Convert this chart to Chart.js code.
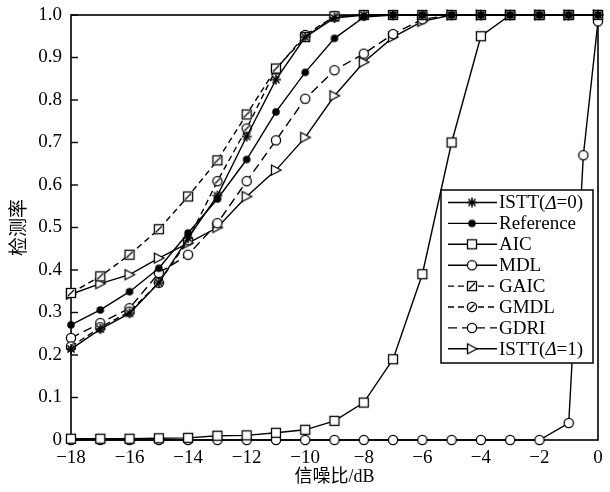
<!DOCTYPE html>
<html lang="zh">

<head>
  <meta charset="UTF-8">
  <title>检测率 vs 信噪比</title>
  <script src="https://cdn.jsdelivr.net/npm/chart.js"></script>
  <style>
    body { margin: 0; background: #fff; }
  </style>
</head>

<body>
  <canvas id="detChart" width="610" height="492"></canvas>

  <script>
    // Data (x = SNR in dB)
    const snr = [-18, -17, -16, -15, -14, -13, -12, -11, -10, -9, -8, -7, -6, -5, -4, -3, -2, -1, 0];
    const istt0 = [0.214, 0.261, 0.298, 0.37, 0.475, 0.575, 0.714, 0.848, 0.948, 0.993, 1, 1, 1, 1, 1, 1, 1, 1, 1];
    const reference = [0.271, 0.306, 0.349, 0.404, 0.487, 0.567, 0.66, 0.772, 0.865, 0.945, 0.995, 1, 1, 1, 1, 1, 1, 1, 1];
    const aic = [0.003, 0.003, 0.003, 0.004, 0.005, 0.01, 0.011, 0.017, 0.024, 0.045, 0.088, 0.19, 0.39, 0.70, 0.95, 1, 1, 1, 1];
    const mdlSnr = [-18, -17, -16, -15, -14, -13, -12, -11, -10, -9, -8, -7, -6, -5, -4, -3, -2, -1, -0.5, 0];
    const mdl = [0, 0, 0, 0, 0, 0, 0, 0, 0, 0, 0, 0, 0, 0, 0, 0, 0, 0.04, 0.67, 0.985];
    const gaic = [0.346, 0.385, 0.436, 0.496, 0.573, 0.658, 0.766, 0.874, 0.948, 0.997, 1, 1, 1, 1, 1, 1, 1, 1, 1];
    const gmdl = [0.22, 0.265, 0.302, 0.37, 0.47, 0.609, 0.733, 0.872, 0.953, 0.997, 1, 1, 1, 1, 1, 1, 1, 1, 1];
    const gdri = [0.24, 0.275, 0.31, 0.393, 0.436, 0.51, 0.609, 0.705, 0.803, 0.87, 0.909, 0.955, 0.99, 1, 1, 1, 1, 1, 1];
    const istt1 = [0.343, 0.368, 0.389, 0.428, 0.463, 0.50, 0.573, 0.635, 0.712, 0.81, 0.889, 0.948, 0.985, 1, 1, 1, 1, 1, 1];

    const xTicks = [-18, -16, -14, -12, -10, -8, -6, -4, -2, 0];
    const serif = "'Liberation Serif', 'Noto Sans CJK SC', serif";

    // Build marker images
    function makeMarker(kind) {
      const c = document.createElement('canvas');
      c.width = 14; c.height = 14;
      const g = c.getContext('2d');
      g.strokeStyle = '#000';
      g.fillStyle = '#fff';
      g.lineWidth = 1.3;
      if (kind === 'star') {
        g.lineWidth = 1.5;
        for (let i = 0; i < 4; i++) {
          const a = i * Math.PI / 4;
          g.beginPath();
          g.moveTo(7 - 5 * Math.cos(a), 7 - 5 * Math.sin(a));
          g.lineTo(7 + 5 * Math.cos(a), 7 + 5 * Math.sin(a));
          g.stroke();
        }
      } else if (kind === 'dot') {
        g.fillStyle = '#000';
        g.beginPath(); g.arc(7, 7, 3.8, 0, Math.PI * 2); g.fill();
      } else if (kind === 'square' || kind === 'squareSlash') {
        g.fillRect(2.5, 2.5, 9, 9);
        g.strokeRect(2.5, 2.5, 9, 9);
        if (kind === 'squareSlash') {
          g.beginPath(); g.moveTo(4, 10); g.lineTo(10, 4); g.stroke();
        }
      } else if (kind === 'circle' || kind === 'circleSlash') {
        g.beginPath(); g.arc(7, 7, 4.6, 0, Math.PI * 2); g.fill(); g.stroke();
        if (kind === 'circleSlash') {
          g.beginPath(); g.moveTo(4.5, 9.5); g.lineTo(9.5, 4.5); g.stroke();
        }
      } else if (kind === 'triangle') {
        g.beginPath(); g.moveTo(2.5, 2); g.lineTo(12, 7); g.lineTo(2.5, 12); g.closePath();
        g.fill(); g.stroke();
      }
      return c;
    }

    function series(label, xs, ys, marker, dash) {
      return {
        label: label,
        data: ys.map((v, i) => ({ x: xs[i], y: v })),
        borderColor: '#000',
        backgroundColor: '#fff',
        borderWidth: 1.4,
        borderDash: dash,
        pointStyle: makeMarker(marker),
        pointRadius: 5,
        tension: 0,
        clip: false
      };
    }

    const datasets = [
      series('ISTT(Δ=0)', snr, istt0, 'star', []),
      series('Reference', snr, reference, 'dot', []),
      series('AIC', snr, aic, 'square', []),
      series('MDL', mdlSnr, mdl, 'circle', []),
      series('GAIC', snr, gaic, 'squareSlash', [6, 4]),
      series('GMDL', snr, gmdl, 'circleSlash', [6, 4]),
      series('GDRI', snr, gdri, 'circle', [9, 5]),
      series('ISTT(Δ=1)', snr, istt1, 'triangle', [])
    ];

    // Frame, inward ticks and the boxed legend
    const framePlugin = {
      id: 'frame',
      beforeDatasetsDraw(chart) {
        const ctx = chart.ctx, a = chart.chartArea, y = chart.scales.y;
        ctx.save();
        ctx.strokeStyle = '#000';
        ctx.lineWidth = 1.6;
        ctx.strokeRect(a.left, a.top, a.right - a.left, a.bottom - a.top);
        ctx.lineWidth = 1.4;
        y.ticks.forEach(t => {
          const py = y.getPixelForValue(t.value);
          ctx.beginPath(); ctx.moveTo(a.left, py); ctx.lineTo(a.left + 7, py); ctx.stroke();
        });
        ctx.restore();
      },
      afterDatasetsDraw(chart) {
        const ctx = chart.ctx;
        const bx = 441, by = 190, bw = 152, bh = 173;
        ctx.save();
        ctx.fillStyle = '#fff';
        ctx.fillRect(bx, by, bw, bh);
        ctx.strokeStyle = '#000';
        ctx.lineWidth = 1.5;
        ctx.strokeRect(bx, by, bw, bh);
        chart.data.datasets.forEach((ds, i) => {
          const ry = 202.5 + i * 20.9;
          ctx.lineWidth = 1.4;
          ctx.setLineDash(ds.borderDash);
          ctx.beginPath(); ctx.moveTo(448, ry); ctx.lineTo(497, ry); ctx.stroke();
          ctx.setLineDash([]);
          const m = ds.pointStyle;
          ctx.drawImage(m, 472 - m.width / 2, ry - m.height / 2);
          // label, with italic delta
          ctx.fillStyle = '#000';
          ctx.textBaseline = 'middle';
          let tx = 499;
          const parts = ds.label.split('Δ');
          ctx.font = '19px ' + serif;
          ctx.fillText(parts[0], tx, ry + 1);
          if (parts.length > 1) {
            tx += ctx.measureText(parts[0]).width;
            ctx.font = 'italic 19px ' + serif;
            ctx.fillText('Δ', tx, ry + 1);
            tx += ctx.measureText('Δ').width;
            ctx.font = '19px ' + serif;
            ctx.fillText(parts[1], tx, ry + 1);
          }
        });
        ctx.restore();
      }
    };

    // Render Chart
    const ctx = document.getElementById('detChart').getContext('2d');
    new Chart(ctx, {
      type: 'line',
      data: { datasets: datasets },
      plugins: [framePlugin],
      options: {
        responsive: false,
        animation: false,
        layout: { padding: { left: 0, right: 12, top: 15, bottom: 0 } },
        plugins: { legend: { display: false }, tooltip: { enabled: false } },
        scales: {
          x: {
            type: 'linear',
            min: -18,
            max: 0,
            afterBuildTicks: (scale) => { scale.ticks = xTicks.map(v => ({ value: v })); },
            afterFit: (scale) => {
              scale.height = 52;
              scale.paddingLeft = 0; scale.paddingRight = 0;
            },
            grid: { display: false, drawTicks: false },
            border: { display: false },
            ticks: {
              padding: 7,
              color: '#000',
              font: { family: serif, size: 19 },
              maxRotation: 0,
              callback: (v) => v < 0 ? '\u2212' + Math.abs(v) : '0'
            },
            title: {
              display: true,
              text: '信噪比/dB',
              color: '#000',
              font: { family: serif, size: 18 },
              padding: { top: 0, bottom: 4 }
            }
          },
          y: {
            min: 0,
            max: 1,
            afterFit: (scale) => {
              scale.width = 71;
              scale.paddingTop = 0; scale.paddingBottom = 0;
            },
            grid: { display: false, drawTicks: false },
            border: { display: false },
            ticks: {
              stepSize: 0.1,
              padding: 9,
              color: '#000',
              font: { family: serif, size: 19 },
              callback: (v) => v === 0 ? '0' : v.toFixed(1)
            },
            title: {
              display: true,
              text: '检测率',
              color: '#000',
              font: { family: serif, size: 19 },
              padding: { top: 9, bottom: 0 }
            }
          }
        }
      }
    });
  </script>
</body>

</html>
